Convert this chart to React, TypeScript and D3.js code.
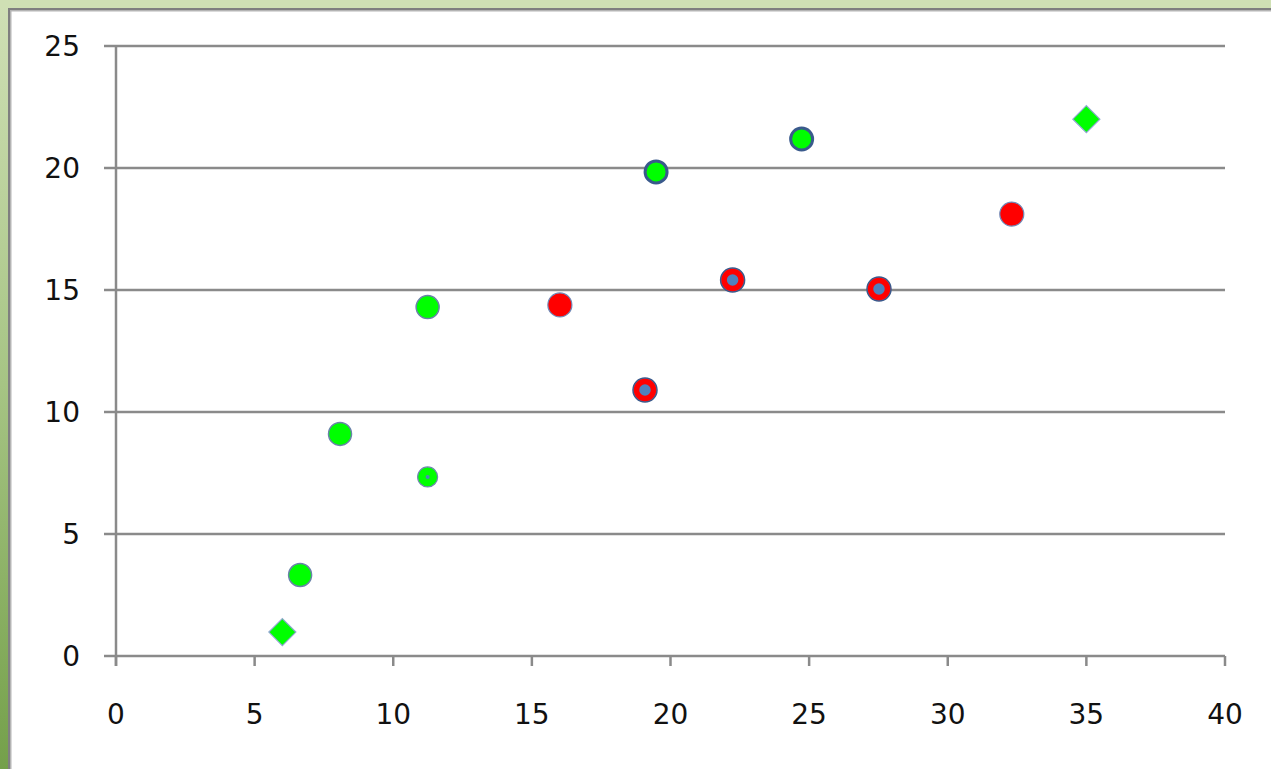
import React from 'react';
import * as d3 from 'd3';

// tick values on both axes
const xTicks = [0, 5, 10, 15, 20, 25, 30, 35, 40];
const yTicks = [0, 5, 10, 15, 20, 25];

// green circles, heavy dark-blue edge
const greenBoldX = [19.48, 24.73];
const greenBoldY = [19.84, 21.19];

// green circles, faint edge
const greenX = [6.64, 8.08, 11.24];
const greenY = [3.32, 9.1, 14.3];

// small green circle with a dot
const greenSmallX = [11.24];
const greenSmallY = [7.34];

// green diamonds
const diamondX = [6.0, 35.0];
const diamondY = [0.98, 22.0];

// solid red circles
const redX = [16.01, 32.31];
const redY = [14.39, 18.11];

// red rings with a blue centre
const ringX = [19.08, 22.24, 27.52];
const ringY = [10.9, 15.41, 15.04];

const W = 1271;
const H = 769;
const left = 116;
const right = 1225;
const top = 46;
const bottom = 656;
const font = '"DejaVu Sans", Verdana, sans-serif';

const App: React.FC = () => {
  const x = d3.scaleLinear().domain([0, 40]).range([left, right]);
  const y = d3.scaleLinear().domain([0, 25]).range([bottom, top]);
  const diamond = d3.symbol().type(d3.symbolDiamond2).size(465)() as string;

  const pts = (xs: number[], ys: number[]) => xs.map((v, i) => [x(v), y(ys[i])]);

  return (
    <svg width={W} height={H} style={{ position: 'absolute', left: 0, top: 0, display: 'block' }}>
      <defs>
        <linearGradient id="frame" x1="0" y1="0" x2="0" y2="1">
          <stop offset="0" stopColor="#d0e0b6" />
          <stop offset="0.5" stopColor="#a6c484" />
          <stop offset="1" stopColor="#74a04a" />
        </linearGradient>
      </defs>
      <rect x={0} y={0} width={W} height={H} fill="url(#frame)" />
      <rect x={0} y={0} width={W} height={8} fill="#cfe0b4" />
      <rect x={8} y={8} width={W} height={H} fill="#7f7f7f" />
      <rect x={10} y={10} width={W} height={H} fill="#b4b4b4" />
      <rect x={11.5} y={11.5} width={W} height={H} fill="#ffffff" />

      {/* gridlines and y ticks */}
      {yTicks.map((t) => (
        <g key={'y' + t}>
          <line x1={left - 12} x2={right} y1={y(t)} y2={y(t)} stroke="#8a8a8a" strokeWidth={2.5} />
          <text x={80} y={y(t)} dy="0.36em" textAnchor="end" fontFamily={font} fontSize={28} fill="#111">
            {t}
          </text>
        </g>
      ))}
      {/* y axis */}
      <line x1={left} x2={left} y1={top} y2={bottom + 10} stroke="#8a8a8a" strokeWidth={2.5} />
      {/* x ticks */}
      {xTicks.map((t) => (
        <g key={'x' + t}>
          <line x1={x(t)} x2={x(t)} y1={bottom} y2={bottom + 10} stroke="#8a8a8a" strokeWidth={2.5} />
          <text x={x(t)} y={724} textAnchor="middle" fontFamily={font} fontSize={28} fill="#111">
            {t}
          </text>
        </g>
      ))}

      {pts(greenX, greenY).map(([cx, cy], i) => (
        <circle key={'g' + i} cx={cx} cy={cy} r={11.5} fill="#00ff00" stroke="#6a82aa" strokeWidth={1.5} />
      ))}
      {pts(greenBoldX, greenBoldY).map(([cx, cy], i) => (
        <circle key={'gb' + i} cx={cx} cy={cy} r={11} fill="#00ff00" stroke="#3a5a8c" strokeWidth={3} />
      ))}
      {pts(greenSmallX, greenSmallY).map(([cx, cy], i) => (
        <g key={'gs' + i}>
          <circle cx={cx} cy={cy} r={10} fill="#00ff00" stroke="#7088b0" strokeWidth={1.2} />
          <circle cx={cx} cy={cy} r={2} fill="#4f81bd" />
        </g>
      ))}
      {pts(diamondX, diamondY).map(([cx, cy], i) => (
        <path key={'d' + i} d={diamond} transform={`translate(${cx},${cy})`} fill="#00ff00" stroke="#8fa8d0" strokeWidth={1.2} />
      ))}
      {pts(redX, redY).map(([cx, cy], i) => (
        <circle key={'r' + i} cx={cx} cy={cy} r={12} fill="#ff0000" stroke="#6f8ab8" strokeWidth={1.2} />
      ))}
      {pts(ringX, ringY).map(([cx, cy], i) => (
        <g key={'rr' + i}>
          <circle cx={cx} cy={cy} r={12} fill="#4f81bd" stroke="#3a5a8c" strokeWidth={1.5} />
          <circle cx={cx} cy={cy} r={8.5} fill="#4f81bd" stroke="#ff0000" strokeWidth={5.5} />
        </g>
      ))}
    </svg>
  );
};

export default App;
